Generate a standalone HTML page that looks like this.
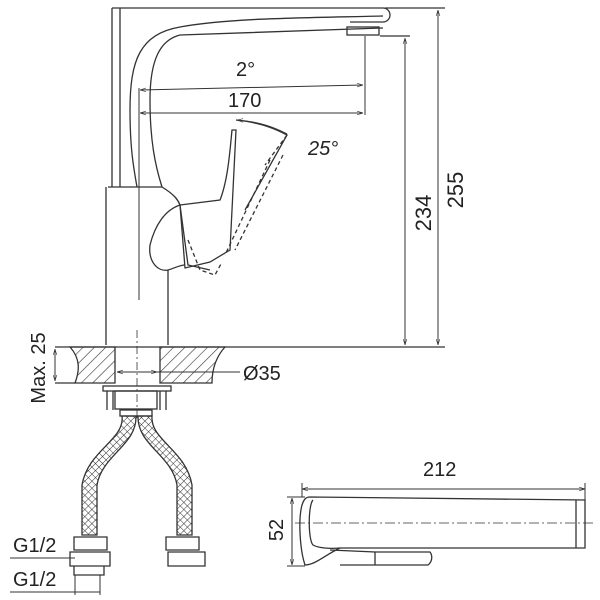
<!DOCTYPE html>
<html><head><style>html,body{margin:0;background:#fff}svg{display:block}</style></head><body>
<svg width="600" height="600" viewBox="0 0 600 600" xmlns="http://www.w3.org/2000/svg" font-family="Liberation Sans, sans-serif">
<defs>
<pattern id="h" width="8" height="8" patternUnits="userSpaceOnUse" patternTransform="rotate(45)"><line x1="0" y1="0" x2="0" y2="8" stroke="#333" stroke-width="1.2"/></pattern>
<pattern id="x" width="5" height="5" patternUnits="userSpaceOnUse" patternTransform="rotate(45)"><path d="M0 0V5M0 0H5" stroke="#333" stroke-width="1"/></pattern>
<marker id="a" viewBox="0 0 10 10" refX="10" refY="5" markerWidth="6" markerHeight="6" orient="auto-start-reverse"><path d="M0 2L10 5L0 8" fill="none" stroke="#333"/></marker>
</defs>
<g fill="none" stroke="#333" stroke-width="1.3">
<path d="M112 8H383a6 6 0 0 1 0 14H350"/>
<line x1="112" y1="8" x2="112" y2="187"/><line x1="120" y1="8" x2="120" y2="187"/>
<path d="M383 16C300 18 230 18 180 27C140 34 130 60 130 110C130 150 134 170 137 187"/>
<path d="M383 28L180 35C160 40 150 60 150 100C150 140 155 165 162 187"/>
<rect x="347" y="27" width="32" height="8"/>
<path d="M108 187H162 M106 187V345 M168 270V345"/>
<path d="M162 187C175 195 178 200 180 205C165 210 155 225 150 245C148 262 158 272 168 270C175 268 180 265 185 265"/>
<path d="M180 205L220 200C228 180 230 150 232 130L236 130L230 250L210 262L185 268Z"/>
<path d="M180 205L188 265L210 270"/>
<path d="M236 120C255 122 270 126 287 135L245 210"/>
<path d="M287 135L265 165M283 155L235 250M270 160L225 255" stroke-dasharray="4 3"/>
<path d="M188 240L200 270L215 275L222 262" stroke-dasharray="4 3"/>
<path d="M70 347H115V383H75C80 370 80 358 70 347Z" fill="url(#h)"/>
<path d="M160 347H225C215 358 212 370 212 383H160Z" fill="url(#h)"/>
<line x1="55" y1="347" x2="445" y2="347"/>
<line x1="55" y1="383" x2="75" y2="383"/>
<line x1="137" y1="330" x2="137" y2="420" stroke-dasharray="8 3 2 3" stroke-width="0.8"/>
<rect x="103" y="386" width="68" height="5"/>
<rect x="115" y="391" width="42" height="18"/>
<path d="M107 391V410M113 391V410M160 391V410M166 391V410"/>
<rect x="120" y="410" width="32" height="6"/>
<path d="M122 416C125 440 88 450 82 485V535H97V485C102 455 137 445 136 416Z" fill="url(#x)"/>
<path d="M138 416C137 445 172 455 177 485V535H192V485C186 450 150 440 152 416Z" fill="url(#x)"/>
<path d="M74 537H107V550H74ZM70 552H110V566H70ZM74 566H104V575H74Z"/>
<path d="M166 537H199V550H166ZM168 552H205V566H168Z"/>
<line x1="385" y1="8" x2="445" y2="8"/>
<line x1="380" y1="36" x2="410" y2="36"/>
<line x1="438" y1="10" x2="438" y2="345" marker-start="url(#a)" marker-end="url(#a)" stroke-width="1"/>
<line x1="405" y1="38" x2="405" y2="345" marker-start="url(#a)" marker-end="url(#a)" stroke-width="1"/>
<line x1="365" y1="36" x2="365" y2="115" stroke-width="1"/>
<line x1="140" y1="90" x2="363" y2="85" marker-start="url(#a)" marker-end="url(#a)" stroke-width="1"/>
<line x1="140" y1="113" x2="363" y2="113" marker-start="url(#a)" marker-end="url(#a)" stroke-width="1"/>
<line x1="139" y1="88" x2="139" y2="300" stroke-width="1"/>
<path d="M237 120Q265 122 287 134" marker-start="url(#a)" stroke-width="1"/>
<line x1="117" y1="372" x2="157" y2="372" marker-start="url(#a)" marker-end="url(#a)" stroke-width="1"/>
<line x1="157" y1="372" x2="240" y2="372" stroke-width="1"/>
<line x1="55" y1="349" x2="55" y2="381" marker-start="url(#a)" marker-end="url(#a)" stroke-width="1"/>
<line x1="10" y1="558" x2="75" y2="558" stroke-width="1"/>
<line x1="10" y1="592" x2="100" y2="592" stroke-width="1"/>
<line x1="75" y1="575" x2="75" y2="595" stroke-width="1"/><line x1="100" y1="575" x2="100" y2="595" stroke-width="1"/>
<!-- top view -->
<path d="M310 497L585 500V548H340C325 555 315 565 305 565C300 550 298 520 302 505C304 499 306 497 310 497Z"/>
<path d="M313 500C308 505 308 540 313 545C318 548 330 549 340 548"/>
<path d="M576 500V548"/>
<path d="M330 550L375 552V565M375 552H430C433 556 432 562 428 565H340"/>
<line x1="295" y1="523" x2="595" y2="523" stroke-dasharray="10 3 2 3" stroke-width="0.8"/>
<line x1="302" y1="489" x2="585" y2="489" marker-start="url(#a)" marker-end="url(#a)" stroke-width="1"/>
<line x1="302" y1="483" x2="302" y2="497" stroke-width="1"/><line x1="585" y1="483" x2="585" y2="500" stroke-width="1"/>
<line x1="292" y1="498" x2="292" y2="565" marker-start="url(#a)" marker-end="url(#a)" stroke-width="1"/>
<line x1="287" y1="497" x2="305" y2="497" stroke-width="1"/><line x1="287" y1="566" x2="305" y2="566" stroke-width="1"/>
</g>
<g fill="#222" font-size="20">
<text x="236" y="76">2°</text>
<text x="228" y="107">170</text>
<text x="308" y="155" font-style="italic">25°</text>
<text x="243" y="380">Ø35</text>
<text x="423" y="476">212</text>
<text transform="translate(431,213) rotate(-90)" text-anchor="middle" font-size="22">234</text>
<text transform="translate(463,190) rotate(-90)" text-anchor="middle" font-size="22">255</text>
<text transform="translate(45,368) rotate(-90)" text-anchor="middle">Max. 25</text>
<text transform="translate(283,530) rotate(-90)" text-anchor="middle">52</text>
<text x="13" y="552">G1/2</text>
<text x="13" y="586">G1/2</text>
</g>
</svg>
</body></html>
